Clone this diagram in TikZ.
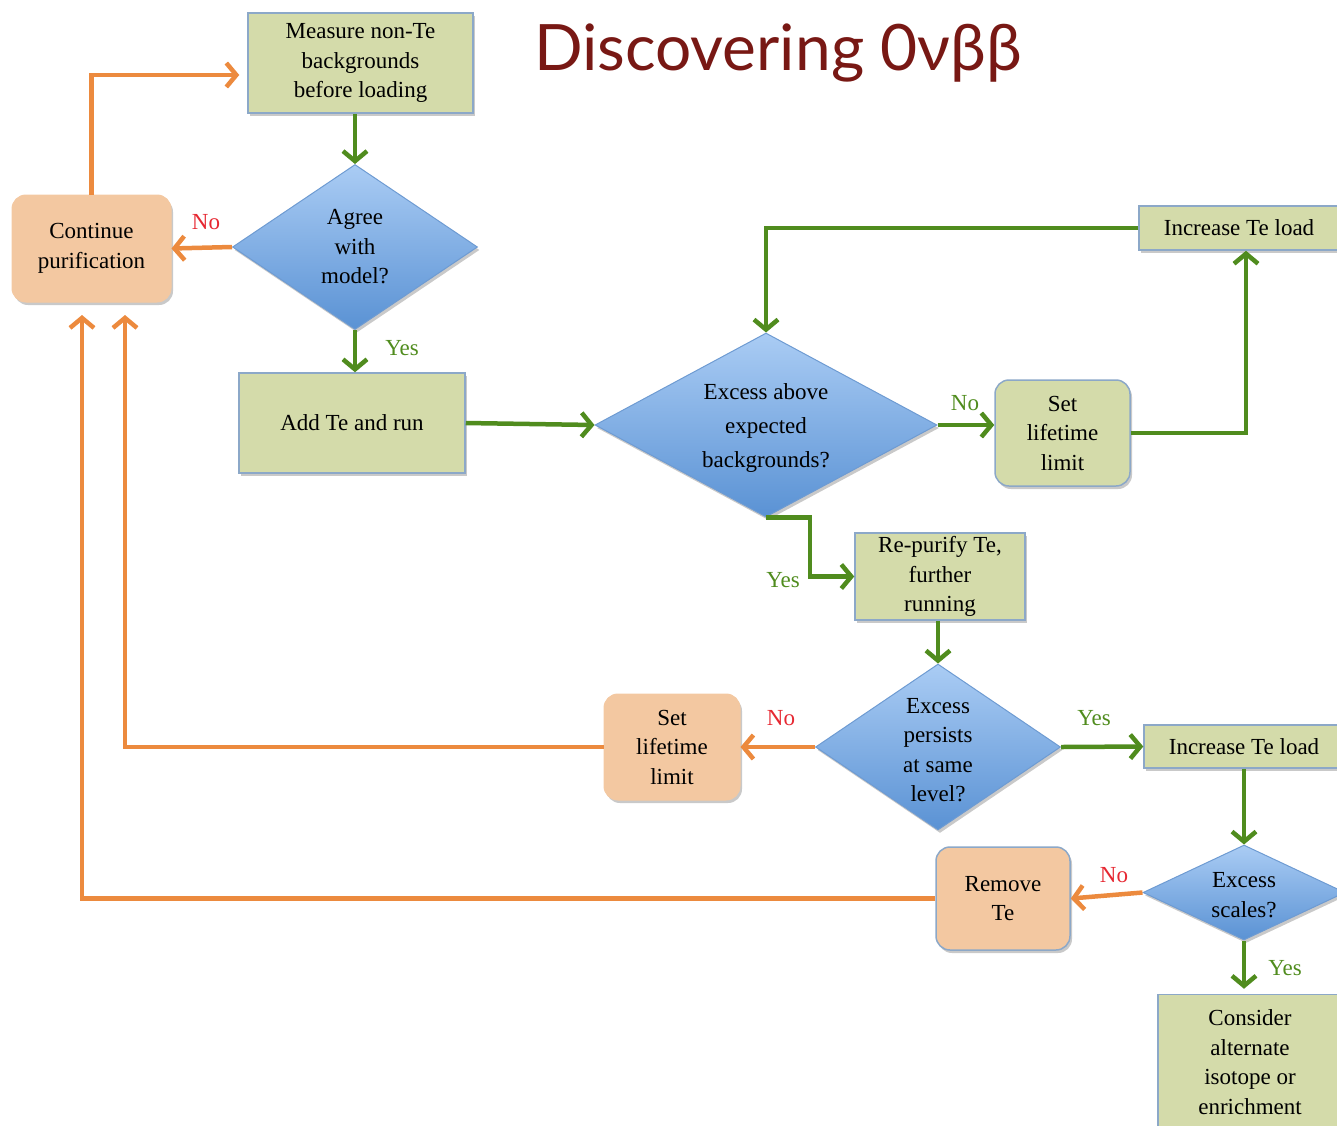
\documentclass[tikz,border=0pt]{standalone}
\usepackage{fontspec}
\setmainfont{Liberation Serif}
\newfontfamily\bodyfont{Liberation Serif}
\newfontfamily\titlefont{Lato}
\usetikzlibrary{shapes.geometric,arrows.meta,shadows}
\definecolor{boxgreen}{RGB}{212,219,170}
\definecolor{boxorange}{RGB}{243,200,161}
\definecolor{bordblue}{RGB}{140,168,200}
\definecolor{arrgreen}{RGB}{80,140,30}
\definecolor{arrorange}{RGB}{236,138,62}
\definecolor{dtop}{RGB}{170,204,244}
\definecolor{dbot}{RGB}{90,146,212}
\definecolor{dbord}{RGB}{110,155,210}
\definecolor{nored}{RGB}{230,40,50}
\definecolor{titlered}{RGB}{120,24,20}
\begin{document}
\begin{tikzpicture}[x=1pt,y=-1pt,
  every node/.style={font=\bodyfont\fontsize{23}{29.5}\selectfont},
  sh/.style={drop shadow={shadow xshift=2pt,shadow yshift=-3pt,opacity=0.3,fill=black!70}},
  gbox/.style={rectangle,draw=bordblue,line width=1.5pt,fill=boxgreen,align=center,inner sep=2pt,sh},
  gron/.style={gbox,rounded corners=14pt},
  obox/.style={rectangle,rounded corners=14pt,fill=boxorange,draw=boxorange,line width=1pt,align=center,inner sep=2pt,sh},
  dia/.style={diamond,top color=dtop,bottom color=dbot,draw=dbord,line width=1pt,inner sep=0pt,sh},
  dtext/.style={align=center,inner sep=0pt},
  ga/.style={draw=arrgreen,line width=4.5pt,-{Straight Barb[length=10pt,width=24pt,line width=4.5pt]}},
  oa/.style={draw=arrorange,line width=4.5pt,-{Straight Barb[length=10pt,width=24pt,line width=4.5pt]}},
  nolbl/.style={text=nored,inner sep=0pt},
  yeslbl/.style={text=arrgreen,inner sep=0pt}]
\useasboundingbox (0,0) rectangle (1337,1125);
\clip (0,0) rectangle (1337,1125);

% title
\node[font=\titlefont\fontsize{64}{70}\selectfont,text=titlered] (title) at (778,53) {Discovering 0νββ};

% boxes
\node[gbox,minimum width=225pt,minimum height=100pt] (meas) at (360.5,63) {Measure non-Te\\backgrounds\\before loading};
\node[obox,minimum width=159pt,minimum height=107pt] (cont) at (91.5,248.5) {Continue\\purification};
\node[dia,minimum width=245pt,minimum height=165pt] (agree) at (355,247) {};
\node[dtext] at (agree) {Agree\\with\\model?};
\node[gbox,minimum width=226pt,minimum height=100pt] (addte) at (352,423) {Add Te and run};
\node[dia,minimum width=342pt,minimum height=184pt] (exabove) at (766,425) {};
\node[dtext,font=\bodyfont\fontsize{23}{34}\selectfont] at (766,428) {Excess above\\expected\\backgrounds?};
\node[gron,minimum width=135pt,minimum height=106pt] (setlife1) at (1062.5,433) {Set\\lifetime\\limit};
\node[gbox,minimum width=200pt,minimum height=44pt] (inc1) at (1239,228) {Increase Te load};
\node[gbox,minimum width=170pt,minimum height=87pt] (repur) at (940,576.5) {Re-purify Te,\\further\\running};
\node[dia,minimum width=245pt,minimum height=166pt] (expers) at (938,747) {};
\node[dtext] at (938,750) {Excess\\persists\\at same\\level?};
\node[obox,minimum width=136pt,minimum height=106pt] (setlife2) at (672,747) {Set\\lifetime\\limit};
\node[gbox,minimum width=200pt,minimum height=43pt] (inc2) at (1244,746.5) {Increase Te load};
\node[dia,minimum width=202pt,minimum height=95pt] (exscale) at (1244,892.5) {};
\node[dtext] at (1244,895) {Excess\\scales?};
\node[obox,draw=bordblue,line width=1.5pt,minimum width=134pt,minimum height=103pt] (remove) at (1003,898.5) {Remove\\Te};
\node[gbox,minimum width=184pt,minimum height=135pt] (consider) at (1250,1062) {Consider\\alternate\\isotope or\\enrichment};

\coordinate (t1) at (125,315);
\coordinate (t2) at (82,315);

% connectors
\draw[ga] (agree.north |- meas.south) -- (agree.north);
\draw[oa] (agree.west) -- (cont.east);
\node[nolbl] (no1) at (206,222) {No};
\draw[oa,shorten >=8pt] (cont.north) |- ([yshift=-12pt]meas.west);
\draw[ga] (agree.south) -- (agree.south |- addte.north);
\node[yeslbl] (yes1) at (402,348) {Yes};
\draw[ga] (addte.east) -- (exabove.west);
\draw[ga] (exabove.east) -- (setlife1.west |- exabove.east);
\node[yeslbl] (no2) at (965,403) {No};
\draw[ga] (setlife1.east) -| ([xshift=7pt]inc1.south);
\draw[ga] (inc1.west) -| (exabove.north);
\draw[ga] (exabove.south) -- ++(44,0) |- (repur.west);
\node[yeslbl] (yes2) at (783,580) {Yes};
\draw[ga] (expers.north |- repur.south) -- (expers.north);
\draw[oa] (expers.west) -- (setlife2.east);
\node[nolbl] (no3) at (781,718) {No};
\draw[oa] (setlife2.west) -| (t1);
\draw[ga] (expers.east) -- (inc2.west);
\node[yeslbl] (yes3) at (1094,718) {Yes};
\draw[ga] (inc2.south) -- (exscale.north);
\draw[oa] (exscale.west) -- (remove.east);
\node[nolbl] (no4) at (1114,875) {No};
\draw[oa] (remove.west) -| (t2);
\draw[ga,shorten >=5pt] (exscale.south) -- (exscale.south |- consider.north);
\node[yeslbl] (yes4) at (1285,968) {Yes};
\end{tikzpicture}
\end{document}
